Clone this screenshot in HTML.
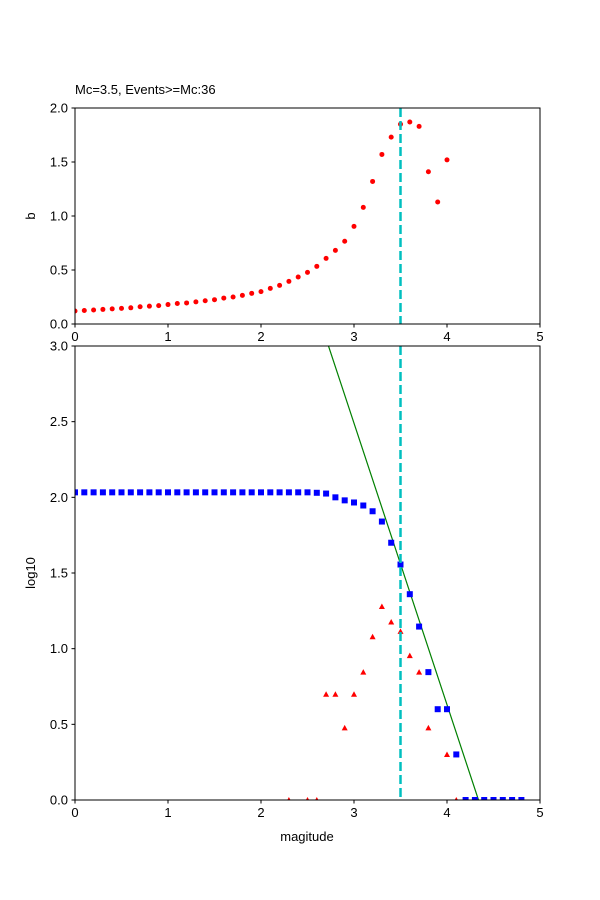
<!DOCTYPE html>
<html><head><meta charset="utf-8"><style>
body{margin:0;background:#fff}
svg{display:block;font-family:"Liberation Sans","DejaVu Sans",sans-serif}
</style></head><body>
<svg id="c" width="600" height="900" xmlns="http://www.w3.org/2000/svg"></svg>
<script>
const bMags=[0,0.1,0.2,0.3,0.4,0.5,0.6,0.7,0.8,0.9,1.0,1.1,1.2,1.3,1.4,1.5,1.6,1.7,1.8,1.9,2.0,2.1,2.2,2.3,2.4,2.5,2.6,2.7,2.8,2.9,3.0,3.1,3.2,3.3,3.4,3.5,3.6,3.7,3.8,3.9,4.0];
const bValues=[0.12,0.125,0.13,0.135,0.14,0.145,0.15,0.16,0.165,0.17,0.18,0.19,0.195,0.205,0.215,0.225,0.24,0.25,0.265,0.284,0.30,0.33,0.358,0.395,0.435,0.478,0.534,0.608,0.682,0.766,0.904,1.08,1.32,1.57,1.73,1.85,1.87,1.83,1.41,1.13,1.52];
const cumMags=[0,0.1,0.2,0.3,0.4,0.5,0.6,0.7,0.8,0.9,1.0,1.1,1.2,1.3,1.4,1.5,1.6,1.7,1.8,1.9,2.0,2.1,2.2,2.3,2.4,2.5,2.6,2.7,2.8,2.9,3.0,3.1,3.2,3.3,3.4,3.5,3.6,3.7,3.8,3.9,4.0,4.1,4.2,4.3,4.4,4.5,4.6,4.7,4.8];
const cumLog=[2.033,2.033,2.033,2.033,2.033,2.033,2.033,2.033,2.033,2.033,2.033,2.033,2.033,2.033,2.033,2.033,2.033,2.033,2.033,2.033,2.033,2.033,2.033,2.033,2.033,2.033,2.03,2.025,2.0,1.98,1.966,1.946,1.908,1.84,1.70,1.556,1.36,1.146,0.845,0.6,0.6,0.301,0,0,0,0,0,0,0];
const ncMags=[2.3,2.5,2.6,2.7,2.8,2.9,3.0,3.1,3.2,3.3,3.4,3.5,3.6,3.7,3.8,4.0,4.1];
const ncLog=[0,0,0,0.699,0.699,0.477,0.699,0.845,1.079,1.279,1.176,1.114,0.954,0.845,0.477,0.301,0];
const Mc=3.5, fitA=8.07, fitB=1.86;
const xTicks=[0,1,2,3,4,5];
const yTicksTop=[0,0.5,1,1.5,2];
const yTicksBot=[0,0.5,1,1.5,2,2.5,3];

const NS="http://www.w3.org/2000/svg";
const svg=document.getElementById('c');
function el(t,a,p){const e=document.createElementNS(NS,t);for(const k in a)e.setAttribute(k,a[k]);(p||svg).appendChild(e);return e;}
const L=75,R=540;
const x=v=>L+(R-L)*v/5;
const yT=v=>324-(324-108)*v/2;
const yB=v=>800-(800-346)*v/3;

// clip paths
const defs=el('defs',{});
const c1=el('clipPath',{id:'ct'},defs);el('rect',{x:L,y:108,width:R-L,height:216},c1);
const c2=el('clipPath',{id:'cb'},defs);el('rect',{x:L,y:346,width:R-L,height:454},c2);

// top panel
const gT=el('g',{'clip-path':'url(#ct)'});


bMags.forEach((m,i)=>{const c=el('circle',{cx:x(m),cy:yT(bValues[i]),r:2.5,fill:'#ff0000'},gT);

});
const mcT=el('line',{x1:x(Mc),x2:x(Mc),y1:108,y2:324,stroke:'#00bfbf','stroke-width':2.5,'stroke-dasharray':'9,4'},gT);



// bottom panel
const gB=el('g',{'clip-path':'url(#cb)'});


const m0=(fitA-3)/fitB, m1=fitA/fitB;
const fit=el('line',{x1:x(m0),y1:yB(3),x2:x(m1),y2:yB(0),stroke:'#008000','stroke-width':1.2},gB);


cumMags.forEach((m,i)=>{const r=el('rect',{x:x(m)-3,y:yB(cumLog[i])-3,width:6,height:6,fill:'#0000ff'},gB);

});
ncMags.forEach((m,i)=>{const cx=x(m),cy=yB(ncLog[i]);const p=el('polygon',{points:`${cx},${cy-3} ${cx-3},${cy+2.5} ${cx+3},${cy+2.5}`,fill:'#ff0000'},gB);

});
const mcB=el('line',{x1:x(Mc),x2:x(Mc),y1:346,y2:800,stroke:'#00bfbf','stroke-width':2.5,'stroke-dasharray':'9,4'},gB);



// frames and ticks
function axes(top,bot,yf,yt,name){
  const f=el('rect',{x:L,y:top,width:R-L,height:bot-top,fill:'none',stroke:'#000','stroke-width':1});
  
  
  xTicks.forEach(t=>{el('line',{x1:x(t),x2:x(t),y1:bot,y2:bot+3.5,stroke:'#000'});
    const tx=el('text',{x:x(t),y:bot+17,'font-size':13,'text-anchor':'middle'});tx.textContent=t;
    
    });
  yt.forEach(t=>{el('line',{x1:L-3.5,x2:L,y1:yf(t),y2:yf(t),stroke:'#000'});
    const tx=el('text',{x:L-7,y:yf(t)+4.5,'font-size':13,'text-anchor':'end'});tx.textContent=t.toFixed(1);
    
    });
}
axes(108,324,yT,yTicksTop,'top');
axes(346,800,yB,yTicksBot,'bottom');

const t=el('text',{x:75,y:94,'font-size':13});t.textContent='Mc=3.5, Events>=Mc:36';


const yl1=el('text',{x:35,y:216,'font-size':13,'text-anchor':'middle',transform:'rotate(-90 35 216)'});yl1.textContent='b';


const yl2=el('text',{x:35,y:573,'font-size':13,'text-anchor':'middle',transform:'rotate(-90 35 573)'});yl2.textContent='log10';


const xl=el('text',{x:307,y:841,'font-size':13,'text-anchor':'middle'});xl.textContent='magitude';


</script>
</body></html>
